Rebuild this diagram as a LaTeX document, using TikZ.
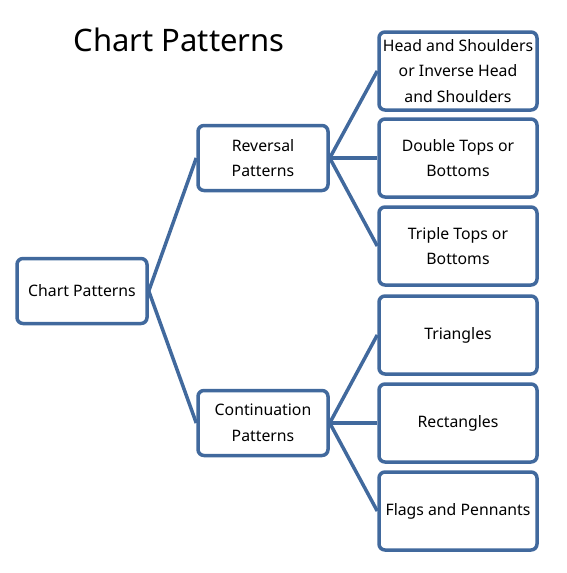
\documentclass[tikz,border=0pt]{standalone}
\usepackage{fontspec}
\setmainfont{Noto Sans}
\definecolor{boxblue}{HTML}{41699D}
\tikzset{
  pbox/.style={draw=boxblue, line width=3.5pt, rounded corners=6pt, fill=white,
    align=center, font=\fontsize{15.8}{25.5}\selectfont, inner sep=0pt},
  midbox/.style={pbox, minimum width=130pt, minimum height=65pt},
  leafbox/.style={pbox, minimum width=158pt, minimum height=78pt},
  link/.style={draw=boxblue, line width=3.5pt}
}
\begin{document}
\begin{tikzpicture}[x=1pt,y=-1pt]
                    \useasboundingbox (0,0) rectangle (566,573);

                    \node (title) at (179,40) {\fontsize{31}{36}\selectfont Chart Patterns};

                    \node[midbox] (root) at (82,291) {Chart Patterns};
                    \node[midbox] (rev) at (263,158) {Reversal\\Patterns};
                    \node[midbox] (cont) at (263,423) {Continuation\\Patterns};

                    \node[leafbox] (head) at (458,71) {Head and Shoulders\\or Inverse Head\\and Shoulders};
                    \node[leafbox] (double) at (458,158) {Double Tops or\\Bottoms};
                    \node[leafbox] (triple) at (458,246) {Triple Tops or\\Bottoms};
                    \node[leafbox] (tri) at (458,335) {Triangles};
                    \node[leafbox] (rect) at (458,423) {Rectangles};
                    \node[leafbox] (flags) at (458,511) {Flags and Pennants};

                    \draw[link] (root.east) -- (rev.west);
                    \draw[link] (root.east) -- (cont.west);

                    \draw[link] (rev.east) -- (head.west);
                    \draw[link] (rev.east) -- (double.west);
                    \draw[link] (rev.east) -- (triple.west);
                    \draw[link] (cont.east) -- (tri.west);
                    \draw[link] (cont.east) -- (rect.west);
                    \draw[link] (cont.east) -- (flags.west);

                \end{tikzpicture}
\end{document}
